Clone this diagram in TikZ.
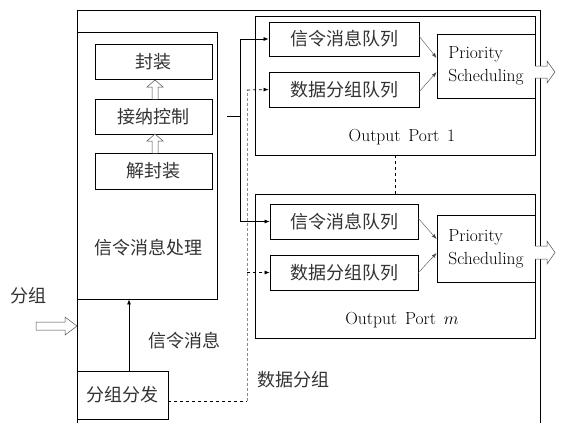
\documentclass[tikz,border=0pt]{standalone}
\usepackage{fontspec}
\newfontfamily\cjk{Noto Sans CJK SC}
\usetikzlibrary{arrows.meta}
\begin{document}
\begin{tikzpicture}[x=1pt,y=-1pt,
  box/.style={draw,line width=0.8pt,inner sep=0pt,fill=white},
  zh/.style={font=\cjk\fontsize{18}{21}\selectfont,text=black!80},
  en/.style={font=\fontsize{17.5}{20}\selectfont,text=black},
  arr/.style={-{Latex[length=5pt,width=4pt]},line width=0.7pt},
  hollow/.style={draw=black!70,line width=0.5pt,fill=white}]
\useasboundingbox (0,0) rectangle (564,423);
% outer frame (open at bottom)
\draw[line width=0.8pt] (77,423) -- (77,10) -- (540,10) -- (540,423);
% signalling processing block
\node[box,minimum width=140pt,minimum height=267pt] (sig) at (147,165.5) {};
\node[zh] (sigt) at (148,248) {信令消息处理};
\node[box,zh,minimum width=117pt,minimum height=35pt] (fz) at (153.5,61.5) {封装};
\node[box,zh,minimum width=117pt,minimum height=35pt] (jn) at (153.5,116.5) {接纳控制};
\node[box,zh,minimum width=117pt,minimum height=36pt] (jfz) at (153.5,171) {解封装};
% small hollow arrows
\draw[hollow] (152,99) -- (152,87) -- (147,87) -- (155,80) -- (163,87) -- (158,87) -- (158,99);
\draw[hollow] (152,153) -- (152,141) -- (147,141) -- (155,134) -- (163,141) -- (158,141) -- (158,153);
% dispatcher
\node[box,zh,minimum width=91pt,minimum height=48pt] (ff) at (122.5,395) {分组分发};
% output port 1
\node[box,minimum width=280pt,minimum height=139pt] (p1) at (395,85.5) {};
\node[en] (p1t) at (402,137) {Output\hspace{0.45em}Port\hspace{0.45em}1};
\node[box,zh,minimum width=150pt,minimum height=34pt] (q1s) at (344,39) {信令消息队列};
\node[box,zh,minimum width=150pt,minimum height=35pt] (q1d) at (344,89.5) {数据分组队列};
\node[box,en,minimum width=98pt,minimum height=64pt,align=left] (ps1) at (486,66) {Priority\\[3pt]Scheduling};
% output port m
\node[box,minimum width=280pt,minimum height=144pt] (pm) at (395,266) {};
\node[en] (pmt) at (402,320) {Output\hspace{0.45em}Port\hspace{0.45em}$m$};
\node[box,zh,minimum width=148pt,minimum height=35pt] (qms) at (344,221.5) {信令消息队列};
\node[box,zh,minimum width=148pt,minimum height=35pt] (qmd) at (344,272.5) {数据分组队列};
\node[box,en,minimum width=98pt,minimum height=67pt,align=left] (psm) at (486,248.5) {Priority\\[3pt]Scheduling};
% dashed between ports
\draw[dashed,line width=0.6pt] (p1.south -| 395,0) -- (pm.north -| 395,0);
% signalling lines
\coordinate (s0) at (227,116);
\coordinate (s1) at (240,116);
\draw[line width=0.7pt] (s0) -- (s1);
\draw[arr] (s1) |- (q1s.west);
\draw[arr] (s1) |- (qms.west);
% data lines
\coordinate (d0) at (247,401);
\coordinate (d1) at (247,90);
\draw[dashed,line width=0.6pt] (ff.east |- d0) -- (d0);
\draw[densely dashed,black!45,line width=0.6pt] (d0) -- (d1);
\draw[arr,dashed] (d1) -- (q1d.west);
\draw[arr,dashed] (d1 |- qmd.west) -- (qmd.west);
% queue -> scheduler
\draw[-{Latex[length=5pt,width=3.5pt]},line width=0.4pt,black!70] (419,36) -- (ps1.west |- 0,58);
\draw[-{Latex[length=5pt,width=3.5pt]},line width=0.4pt,black!70] (419,92) -- (ps1.west |- 0,72);
\draw[-{Latex[length=5pt,width=3.5pt]},line width=0.4pt,black!70] (418,218) -- (psm.west |- 0,239);
\draw[-{Latex[length=5pt,width=3.5pt]},line width=0.4pt,black!70] (418,273) -- (psm.west |- 0,253);
% dispatcher -> signalling processing
\draw[arr] (ff.north -| 129,0) -- (sig.south -| 129,0);
% output hollow arrows
\draw[hollow] (535,66) -- (547,66) -- (547,61) -- (555,72) -- (547,83) -- (547,78) -- (535,78);
\draw[hollow] (535,246) -- (547,246) -- (547,241) -- (555,252.5) -- (547,264) -- (547,259) -- (535,259);
% input hollow arrow
\draw[hollow] (36,322) -- (65,322) -- (65,317) -- (77,326) -- (65,335) -- (65,330) -- (36,330) -- cycle;
% labels
\node[zh] (lin) at (28,296) {分组};
\node[zh] (lsig) at (184,341) {信令消息};
\node[zh] (ldat) at (293,380) {数据分组};
\end{tikzpicture}
\end{document}
